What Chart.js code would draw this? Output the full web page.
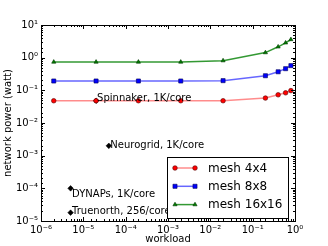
<!DOCTYPE html>
<html>
<head>
<meta charset="utf-8">
<script src="https://cdn.jsdelivr.net/npm/chart.js@4"></script>
<style>
  html, body { margin: 0; padding: 0; background: #fff; }
  #wrap { width: 328px; height: 246px; }
</style>
</head>
<body>
<div id="wrap"><canvas id="c"></canvas></div>
<script>
// workload values shared by the mesh series
const workload = [2e-6, 2e-5, 2e-4, 2e-3, 2e-2, 0.2, 0.4, 0.6, 0.8];
const mesh4 = [0.048, 0.048, 0.048, 0.048, 0.048, 0.058, 0.073, 0.084, 0.098];
const mesh8 = [0.193, 0.193, 0.193, 0.193, 0.198, 0.28, 0.37, 0.46, 0.57];
const mesh16 = [0.737, 0.737, 0.737, 0.737, 0.81, 1.43, 2.15, 2.85, 3.6];

// other chips
const chipNames = ["Spinnaker, 1K/core", "Neurogrid, 1K/core", "DYNAPs, 1K/core", "Truenorth, 256/core"];
const chipWorkload = [2e-5, 4e-5, 5e-6, 5e-6];
const chipPower = [0.048, 2e-3, 1e-4, 1.8e-5];
// label offset from the marker in px [dx, dy of baseline]
const labelOffsets = [[1, 0.5], [1.5, 2], [1.5, 8.5], [1.5, 1]];

const sup = { "-": "⁻", "0": "⁰", "1": "¹", "2": "²", "3": "³", "4": "⁴", "5": "⁵", "6": "⁶", "7": "⁷", "8": "⁸", "9": "⁹" };
function isMajor(v) {
  const l = Math.log10(v);
  return Math.abs(l - Math.round(l)) < 1e-9;
}
function logLabel(v) {
  if (!isMajor(v)) return "";
  const e = String(Math.round(Math.log10(v)));
  return "10" + e.split("").map(ch => sup[ch]).join("");
}
const pts = ys => ys.map((y, i) => ({ x: workload[i], y }));

const FONT = "DejaVu Sans";

const series = [
  { label: "mesh 4x4", data: pts(mesh4), line: "rgba(255,0,0,0.45)", fill: "#ff0000", edge: "#550000", style: "circle", r: 2.3 },
  { label: "mesh 8x8", data: pts(mesh8), line: "rgba(0,0,255,0.6)", fill: "#0000ff", edge: "#000055", style: "rect", r: 2.9 },
  { label: "mesh 16x16", data: pts(mesh16), line: "rgba(0,128,0,0.8)", fill: "#008000", edge: "#003300", style: "triangle", r: 2.4 }
];

const frameAndTicks = {
  id: "frameAndTicks",
  afterDatasetsDraw(chart) {
    const { ctx, chartArea: a, scales } = chart;
    ctx.save();
    ctx.strokeStyle = "#000";
    ctx.lineWidth = 1;
    ctx.beginPath();
    scales.x.ticks.forEach(t => {
      const px = Math.round(scales.x.getPixelForValue(t.value)) + 0.5;
      const len = isMajor(t.value) ? 4 : 2;
      ctx.moveTo(px, a.bottom); ctx.lineTo(px, a.bottom - len);
      ctx.moveTo(px, a.top); ctx.lineTo(px, a.top + len);
    });
    scales.y.ticks.forEach(t => {
      const py = Math.round(scales.y.getPixelForValue(t.value)) + 0.5;
      const len = isMajor(t.value) ? 4 : 2;
      ctx.moveTo(a.left, py); ctx.lineTo(a.left + len, py);
      ctx.moveTo(a.right, py); ctx.lineTo(a.right - len, py);
    });
    ctx.stroke();
    ctx.strokeRect(Math.round(a.left) + 0.5, Math.round(a.top) + 0.5,
      Math.round(a.right - a.left), Math.round(a.bottom - a.top));

    // chip labels
    ctx.fillStyle = "#000";
    ctx.font = "10px '" + FONT + "'";
    ctx.textAlign = "left";
    ctx.textBaseline = "alphabetic";
    chipNames.forEach((n, i) => {
      const px = scales.x.getPixelForValue(chipWorkload[i]);
      const py = scales.y.getPixelForValue(chipPower[i]);
      ctx.fillText(n, px + labelOffsets[i][0], py + labelOffsets[i][1]);
    });
    ctx.restore();
  },
  afterDraw(chart) {
    // legend box in the lower right corner
    const { ctx, chartArea: a } = chart;
    const x1 = Math.round(a.right - 7), y1 = Math.round(a.bottom - 3.5);
    const x0 = x1 - 121, y0 = y1 - 61;
    ctx.save();
    ctx.fillStyle = "#fff";
    ctx.fillRect(x0, y0, x1 - x0, y1 - y0);
    ctx.strokeStyle = "#000";
    ctx.lineWidth = 1;
    ctx.strokeRect(x0 + 0.5, y0 + 0.5, x1 - x0, y1 - y0);
    ctx.font = "12px '" + FONT + "'";
    ctx.textBaseline = "middle";
    series.forEach((s, i) => {
      const y = y0 + 11 + i * 18.3;
      ctx.strokeStyle = s.line;
      ctx.lineWidth = 1.5;
      ctx.beginPath();
      ctx.moveTo(x0 + 8, y); ctx.lineTo(x0 + 28, y);
      ctx.stroke();
      ctx.fillStyle = s.fill;
      ctx.strokeStyle = s.edge;
      ctx.lineWidth = 0.6;
      [x0 + 8, x0 + 28].forEach(px => {
        Chart.helpers.drawPoint(ctx, { pointStyle: s.style, radius: s.r, rotation: 0, borderWidth: 0.6 }, px, y);
      });
      ctx.fillStyle = "#000";
      ctx.fillText(s.label, x0 + 41, y + 0.5);
    });
    ctx.restore();
  }
};

const datasets = series.map(s => ({
  label: s.label,
  data: s.data,
  showLine: true,
  borderColor: s.line,
  borderWidth: 1.5,
  pointStyle: s.style,
  pointRadius: s.r,
  pointBackgroundColor: s.fill,
  pointBorderColor: s.edge,
  pointBorderWidth: 0.6,
  clip: false
}));
datasets.push({
  label: "chips",
  data: chipWorkload.map((x, i) => ({ x, y: chipPower[i] })),
  showLine: false,
  pointStyle: "rectRot",
  pointRadius: 2.8,
  pointBackgroundColor: "#000",
  pointBorderColor: "#000",
  pointBorderWidth: 0.5,
  clip: false
});

new Chart(document.getElementById("c"), {
  type: "scatter",
  data: { datasets },
  options: {
    responsive: true,
    maintainAspectRatio: false,
    animation: false,
    devicePixelRatio: 1,
    layout: { padding: { top: 25, right: 33, left: 0, bottom: 0 } },
    plugins: { legend: { display: false }, tooltip: { enabled: false } },
    scales: {
      x: {
        type: "logarithmic",
        min: 1e-6, max: 1,
        grid: { display: false, drawTicks: false },
        border: { display: false },
        ticks: {
          autoSkip: false, maxRotation: 0, padding: 3,
          color: "#000", font: { family: FONT, size: 10 },
          callback: v => logLabel(v)
        },
        title: { display: true, text: "workload", color: "#000", font: { family: FONT, size: 10 }, padding: { top: 0, bottom: 1 } },
        afterFit: s => { s.height = 25; }
      },
      y: {
        type: "logarithmic",
        min: 1e-5, max: 10,
        grid: { display: false, drawTicks: false },
        border: { display: false },
        ticks: {
          autoSkip: false, padding: 3,
          color: "#000", font: { family: FONT, size: 10 },
          callback: v => logLabel(v)
        },
        title: { display: true, text: "network power (watt)", color: "#000", font: { family: FONT, size: 10 }, padding: { top: 2, bottom: 0 } },
        afterFit: s => { s.width = 41; }
      }
    }
  },
  plugins: [frameAndTicks]
});
</script>
</body>
</html>
